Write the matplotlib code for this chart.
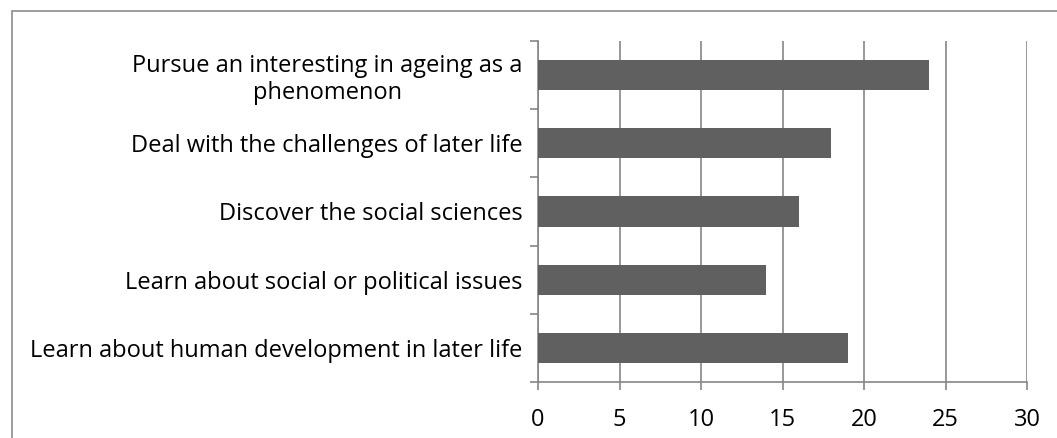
import matplotlib.pyplot as plt
from matplotlib.patches import Rectangle

categories = [
    'Learn about human development in later life',
    'Learn about social or political issues',
    'Discover the social sciences',
    'Deal with the challenges of later life',
    'Pursue an interesting in ageing as a\nphenomenon',
]
values = [19, 14, 16, 18, 24]
xticks = [0, 5, 10, 15, 20, 25, 30]

plt.rcParams['font.family'] = ['Open Sans', 'DejaVu Sans']

W, H = 1057, 438
fig = plt.figure(figsize=(W / 100, H / 100), dpi=100)
ax = fig.add_axes([538 / W, 1 - 382 / H, (1027 - 538) / W, (382 - 41) / H])

grid_col = '#868686'
ax.barh(range(len(values)), values, height=0.44, color='#606060', zorder=3)

ax.set_xlim(0, 30)
ax.set_ylim(-0.5, len(values) - 0.5)
ax.set_xticks(xticks)
ax.set_xticklabels([str(t) for t in xticks], fontsize=17)
ax.xaxis.grid(True, color=grid_col, linewidth=1.2, zorder=0)

ax.set_yticks(range(len(values)))
ax.set_yticklabels(categories, fontsize=17, multialignment='center', linespacing=1.15)
ax.tick_params(axis='y', length=0, pad=11)
ax.set_yticks([i - 0.5 for i in range(len(values) + 1)], minor=True)
ax.tick_params(axis='y', which='minor', length=6, color=grid_col, width=1.2)
ax.tick_params(axis='x', length=6, color=grid_col, width=1.2, pad=13)

for s in ['top', 'right']:
    ax.spines[s].set_visible(False)
for s in ['left', 'bottom']:
    ax.spines[s].set_color(grid_col)
    ax.spines[s].set_linewidth(1.2)

fig.patches.append(Rectangle((12 / W, -0.1), 1.2, 1 - 11 / H + 0.1, transform=fig.transFigure,
                             fill=False, edgecolor='#8c8c8c', linewidth=1.2))

fig.savefig('out.png', dpi=100)
